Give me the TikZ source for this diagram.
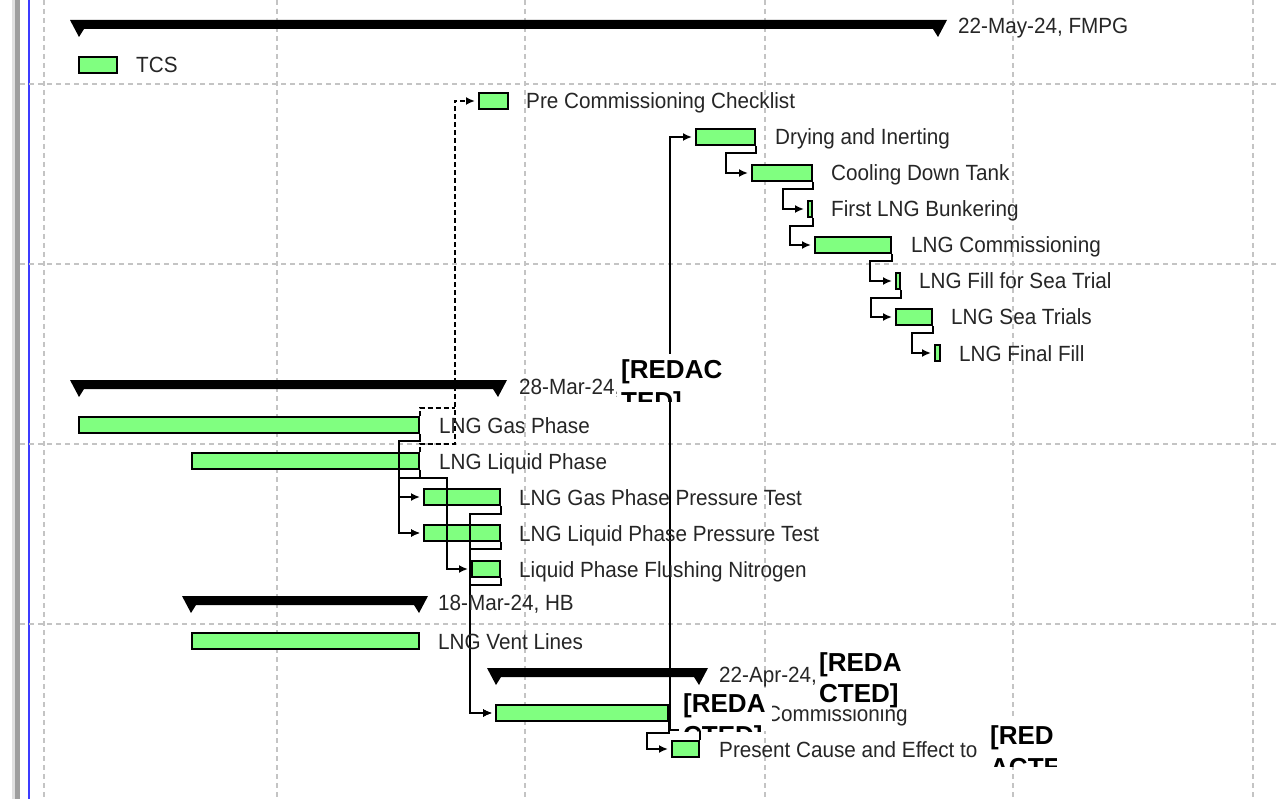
\documentclass[tikz,border=0pt]{standalone}
\usepackage{fontspec}
\setmainfont{Liberation Sans}
\newfontfamily\ganttfont[FakeStretch=0.94]{Liberation Sans}
\usetikzlibrary{arrows.meta}

\definecolor{barfill}{HTML}{80FF80}
\definecolor{gridgray}{HTML}{C4C4C4}
\definecolor{edgeblue}{HTML}{3C3CFF}

\tikzset{
	task/.style={draw=black,fill=barfill,line width=1.6pt,inner sep=0pt,minimum height=16pt,anchor=west},
	lbl/.style={anchor=base west,inner sep=0pt,text=black!85,font=\ganttfont\fontsize{22}{26}\selectfont},
	redact/.style={anchor=base west,inner sep=0pt,font=\bfseries\fontsize{26}{32}\selectfont},
	link/.style={line width=1.8pt,-{Latex[length=9pt,width=8pt]},shorten >=3pt},
	dashline/.style={line width=1.8pt,dash pattern=on 5pt off 3pt},
	dlink/.style={link,dash pattern=on 5pt off 3pt},
	gridline/.style={gridgray,line width=1.5pt,dash pattern=on 5pt off 4pt}
}

% summary bar: x1, x2, row
\newcommand\sumbar[3]{\fill (#1,#3-9) -- (#2,#3-9) -- (#2-9,#3+8) -- (#2-14,#3) -- (#1+14,#3) -- (#1+9,#3+8) -- cycle;}

\begin{document}
\begin{tikzpicture}[x=1pt,y=-1pt]
	\useasboundingbox (0,0) rectangle (1279,799);
	\fill[white] (0,0) rectangle (1279,799);

	% left edge and grid
	\fill[black!12] (12,0) rectangle (15,799);
	\fill[black!38] (15,0) rectangle (20,799);
	\fill[edgeblue] (27.5,0) rectangle (29.5,799);
	\foreach \gx in {44,277,525,765,1013,1253}
		\draw[gridline] (\gx,0) -- (\gx,799);
	\foreach \gy in {84,264,444,624}
		\draw[gridline] (20,\gy) -- (1279,\gy);

	% summaries
	\sumbar{70}{947}{29}
	\sumbar{70}{507}{389}
	\sumbar{182}{428}{605}
	\sumbar{487}{708}{677}

	% tasks
	\node[task,minimum width=38pt] (tcs) at (78,65) {};
	\node[task,minimum width=29pt] (pre) at (478,101) {};
	\node[task,minimum width=59pt] (dry) at (695,137) {};
	\node[task,minimum width=60pt] (cool) at (751,173) {};
	\node[task,minimum width=4pt] (first) at (807,209) {};
	\node[task,minimum width=76pt] (lcomm) at (814,245) {};
	\node[task,minimum width=4pt] (fill) at (895,281) {};
	\node[task,minimum width=36pt] (sea) at (895,317) {};
	\node[task,minimum width=5pt] (final) at (934,353) {};
	\node[task,minimum width=340pt] (gas) at (78,425) {};
	\node[task,minimum width=227pt] (liq) at (191,461) {};
	\node[task,minimum width=76pt] (gppt) at (423,497) {};
	\node[task,minimum width=76pt] (lppt) at (423,533) {};
	\node[task,minimum width=28pt] (flush) at (471,569) {};
	\node[task,minimum width=227pt] (vent) at (191,641) {};
	\node[task,minimum width=172pt] (rcomm) at (495,713) {};
	\node[task,minimum width=27pt] (pres) at (671,749) {};

	% links
	\draw[dlink] (liq.north east) -- ++(0,-8) -- ++(35,0) |- (pre.west);
	\draw[dashline] (gas.north east) -- ++(0,-8) -- ++(35,0);
	\draw[link] (gas.south east) -- ++(0,7) -- ++(-21,0) |- (gppt.west);
	\draw[link] (gas.south east) -- ++(0,7) -- ++(-21,0) |- (lppt.west);
	\draw[link] (liq.south east) -- ++(0,8) -- ++(-21,0) |- (lppt.west);
	\draw[link] (liq.south east) -- ++(0,8) -- ++(27,0) |- (flush.west);
	\draw[link] (gppt.south east) -- ++(0,8) -- ++(-31,0) |- (rcomm.west);
	\draw[link] (lppt.south east) -- ++(0,7) -- ++(-31,0) |- (rcomm.west);
	\draw[link] (flush.south east) -- ++(0,7) -- ++(-31,0) |- (rcomm.west);
	\draw[link] (rcomm.south east) -- ++(0,11) -- ++(-22,0) |- (pres.west);
	\draw[link] (pres.north east) -- ++(0,-10) -- ++(-30,0) |- (dry.west);
	\draw[link] (dry.south east) -- ++(0,7) -- ++(-30,0) |- (cool.west);
	\draw[link] (cool.south east) -- ++(0,7) -- ++(-30,0) |- (first.west);
	\draw[link] (first.south east) -- ++(0,8) -- ++(-23,0) |- (lcomm.west);
	\draw[link] (lcomm.south east) -- ++(0,7) -- ++(-22,0) |- (fill.west);
	\draw[link] (fill.south east) -- ++(0,8) -- ++(-30,0) |- (sea.west);
	\draw[link] (sea.south east) -- ++(0,7) -- ++(-21,0) |- (final.west);

	% labels
	\node[lbl] (fmpgl) at (958,34) {22-May-24, FMPG};
	\node[lbl] (tcsl) at (136,73) {TCS};
	\node[lbl] (prel) at (526,109) {Pre Commissioning Checklist};
	\node[lbl] (dryl) at (775,145) {Drying and Inerting};
	\node[lbl] (cooll) at (831,181) {Cooling Down Tank};
	\node[lbl] (firstl) at (831,217) {First LNG Bunkering};
	\node[lbl] (lcomml) at (911,253) {LNG Commissioning};
	\node[lbl] (filll) at (919,289) {LNG Fill for Sea Trial};
	\node[lbl] (seal) at (951,325) {LNG Sea Trials};
	\node[lbl] (finall) at (959,361) {LNG Final Fill};
	\node[lbl] (marchl) at (519,394) {28-Mar-24,};
	\node[lbl] (gasl) at (439,433) {LNG Gas Phase};
	\node[lbl] (liql) at (439,469) {LNG Liquid Phase};
	\node[lbl] (gpptl) at (519,505) {LNG Gas Phase Pressure Test};
	\node[lbl] (lpptl) at (519,541) {LNG Liquid Phase Pressure Test};
	\node[lbl] (flushl) at (519,577) {Liquid Phase Flushing Nitrogen};
	\node[lbl] (hbl) at (438,610) {18-Mar-24, HB};
	\node[lbl] (ventl) at (438,649) {LNG Vent Lines};
	\node[lbl] (aprill) at (719,682) {22-Apr-24,};
	\node[lbl] (rcomml) at (766,721) {Commissioning};
	\node[lbl] (presl) at (719,757) {Present Cause and Effect to};

	% redacted boxes
	\begin{scope}
		\clip (617,354) rectangle (725,401);
		\fill[white] (617,354) rectangle (725,401);
		\node[redact] (reda) at (621,378) {[REDAC};
		\node[redact] (redb) at (621,410) {TED]};
	\end{scope}
	\fill[white] (815,648) rectangle (906,708);
	\node[redact] (redc) at (819,671) {[REDA};
	\node[redact] (redd) at (819,702) {CTED]};
	\begin{scope}
		\clip (679,688) rectangle (772,731);
		\fill[white] (679,688) rectangle (772,731);
		\node[redact] (rede) at (683,712) {[REDA};
		\node[redact] (redf) at (683,744) {CTED]};
	\end{scope}
	\begin{scope}
		\clip (986,720) rectangle (1056,766);
		\fill[white] (986,720) rectangle (1056,766);
		\node[redact] (redg) at (990,744) {[RED};
		\node[redact] (redh) at (990,776) {ACTE};
	\end{scope}
\end{tikzpicture}
\end{document}
